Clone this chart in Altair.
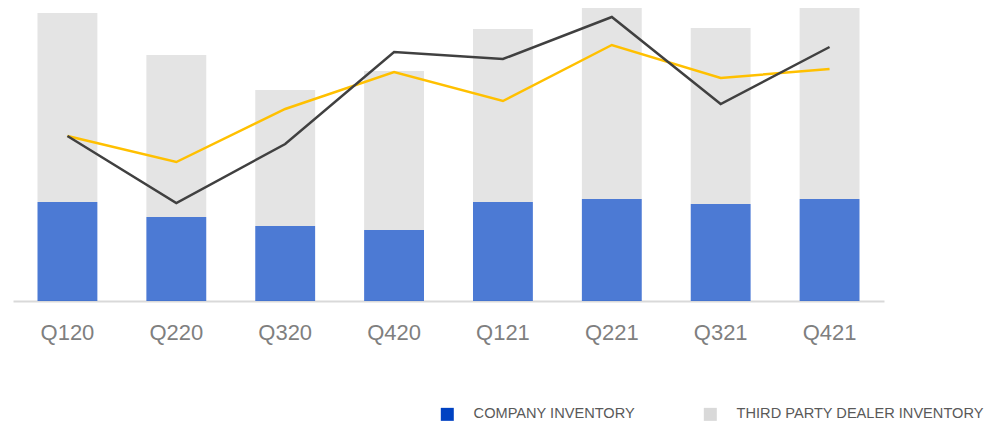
import altair as alt
import pandas as pd

quarters = ["Q120", "Q220", "Q320", "Q420", "Q121", "Q221", "Q321", "Q421"]
company_inventory = [99, 84, 75, 71, 99, 102, 97, 102]
dealer_inventory = [189, 162, 136, 159, 173, 197, 176, 193]
yellow_line = [165, 139, 192, 229, 200, 256, 223, 232]
dark_line = [165, 98, 157, 249, 242, 284, 197, 254]

series_names = ["COMPANY INVENTORY", "THIRD PARTY DEALER INVENTORY"]

rows = []
for q, c, d in zip(quarters, company_inventory, dealer_inventory):
    rows.append({"q": q, "series": series_names[0], "value": c, "ord": 0})
    rows.append({"q": q, "series": series_names[1], "value": d, "ord": 1})
bars_df = pd.DataFrame(rows)
lines_df = pd.DataFrame({"q": quarters, "yellow": yellow_line, "dark": dark_line})

x_scale = alt.Scale(domain=quarters, paddingInner=0.45, paddingOuter=0.225)
y_scale = alt.Scale(domain=[0, 293], nice=False, zero=True)

x_axis = alt.Axis(
    title=None, labelAngle=0, ticks=False, grid=False,
    domainColor="#D9D9D9", domainWidth=2,
    labelFontSize=22, labelColor="#7F7F7F", labelFont="Liberation Sans",
    labelPadding=21,
)

bars = alt.Chart(bars_df).mark_bar(opacity=0.7).encode(
    x=alt.X("q:N", scale=x_scale, axis=x_axis, sort=quarters),
    y=alt.Y("value:Q", stack="zero", scale=y_scale, axis=None),
    color=alt.Color(
        "series:N",
        scale=alt.Scale(domain=series_names, range=["#0042C2", "#D9D9D9"]),
        legend=alt.Legend(
            title=None, orient="none", direction="horizontal",
            legendX=427, legendY=399,
            symbolType="square", symbolSize=169, symbolStrokeWidth=0,
            symbolOpacity=1, labelFontSize=14.6, labelColor="#595959",
            labelFont="Liberation Sans", labelOffset=19, columnPadding=68,
            labelLimit=400,
        ),
    ),
    order=alt.Order("ord:Q", sort="ascending"),
)

line_y = alt.Chart(lines_df).mark_line(color="#FFC000", strokeWidth=2.5).encode(
    x=alt.X("q:N", scale=x_scale, sort=quarters),
    y=alt.Y("yellow:Q", scale=y_scale),
)
line_d = alt.Chart(lines_df).mark_line(color="#404040", strokeWidth=2.5).encode(
    x=alt.X("q:N", scale=x_scale, sort=quarters),
    y=alt.Y("dark:Q", scale=y_scale),
)

chart = alt.layer(bars, line_y, line_d).properties(
    width=871, height=293,
    padding={"left": 5, "top": 0, "right": 109, "bottom": 122},
    autosize=alt.AutoSizeParams(type="none"),
).configure_view(stroke=None)

chart.save("out.html", embed_options={"renderer": "svg", "actions": False})
